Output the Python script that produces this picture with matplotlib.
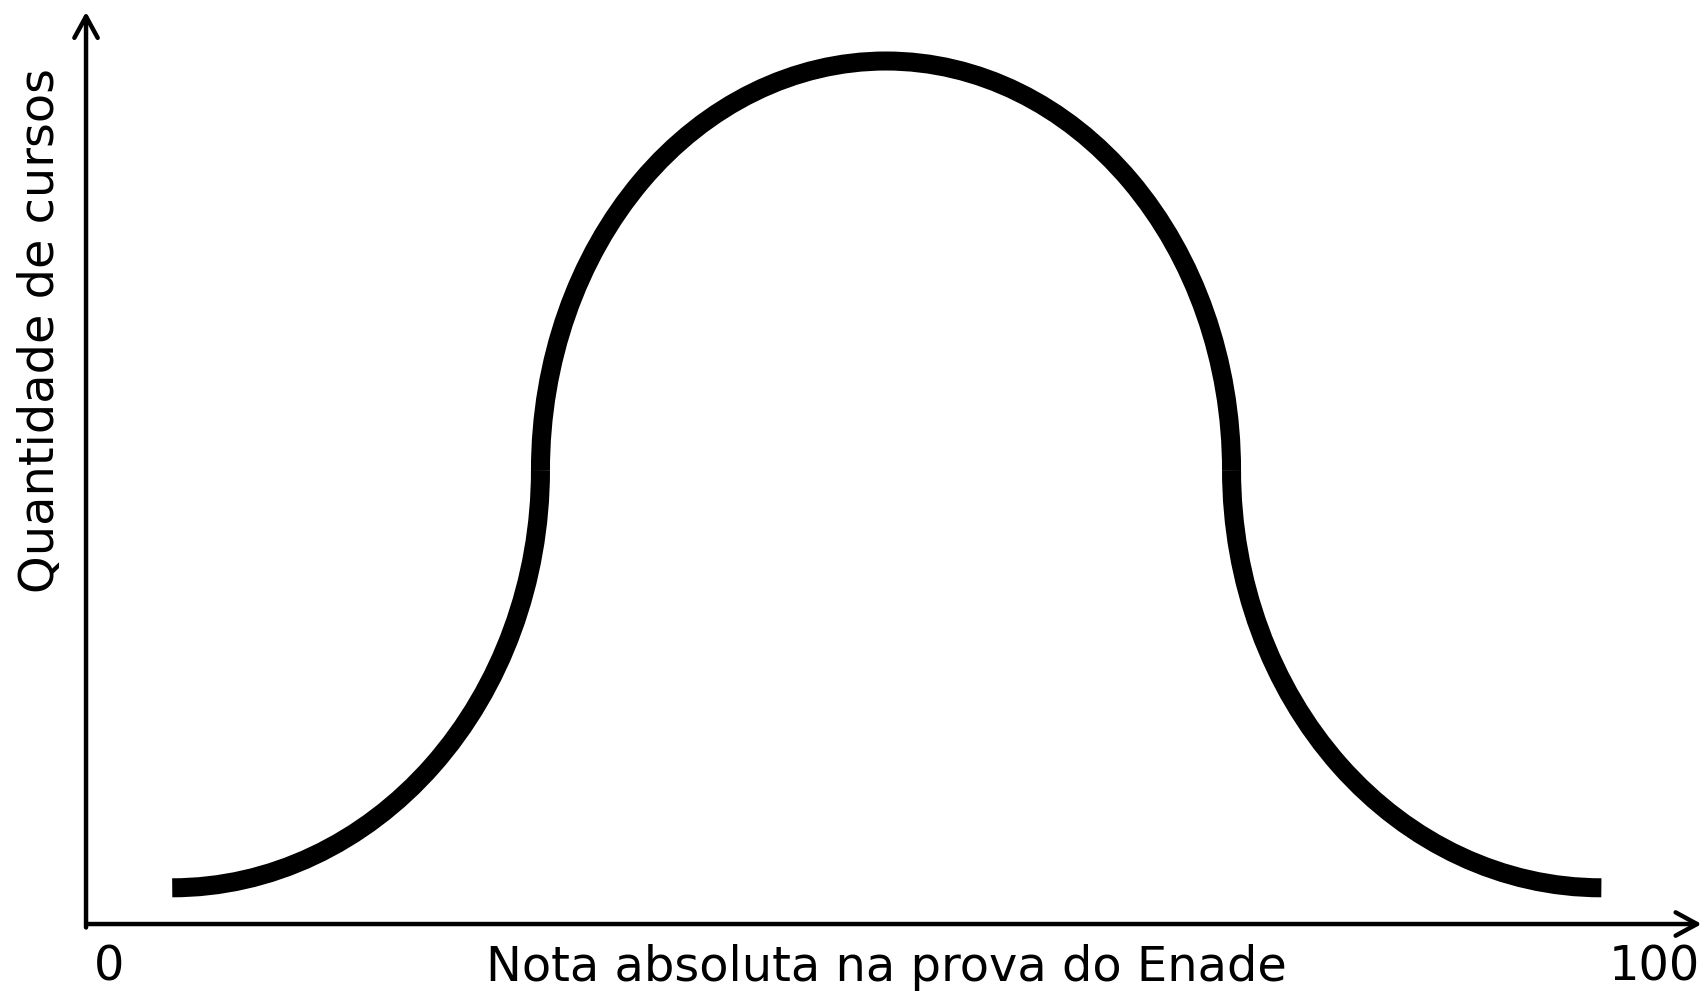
import matplotlib.pyplot as plt
from matplotlib.patches import Arc

# pontos de juncao da curva (nota, quantidade): extremos, juncoes e pico
nota_pontos = [5.5, 29.0, 51.05, 73.1, 96.7]
quantidade_pontos = [4.2, 52.6, 100.0, 52.6, 4.2]

rotulo_x = "Nota absoluta na prova do Enade"
rotulo_y = "Quantidade de cursos"
ticks_x = [0, 100]
ticks_pos = [1.5, 100.1]

fig = plt.figure(figsize=(17.04, 9.91), dpi=100)
ax = fig.add_axes([0, 0, 1, 1])
ax.set_xlim(-5.49, 103.25)
ax.set_ylim(-7.76, 107.07)
ax.axis("off")

lw_curva = 13.7
x = nota_pontos
y = quantidade_pontos

# parte de baixo esquerda (quarto de elipse)
ax.add_patch(Arc((x[0], y[1]), 2 * (x[1] - x[0]), 2 * (y[1] - y[0]),
                 theta1=270, theta2=360, lw=lw_curva, color="black", capstyle="butt"))
# parte de cima (meia elipse)
ax.add_patch(Arc((x[2], y[1]), (x[3] - x[1]), 2 * (y[2] - y[1]),
                 theta1=0, theta2=180, lw=lw_curva, color="black", capstyle="butt"))
# parte de baixo direita
ax.add_patch(Arc((x[4], y[3]), 2 * (x[4] - x[3]), 2 * (y[3] - y[4]),
                 theta1=180, theta2=270, lw=lw_curva, color="black", capstyle="butt"))

# eixos com setas
seta = dict(arrowstyle="->,head_length=0.55,head_width=0.3", lw=3.2, color="black",
            shrinkA=0, shrinkB=0, mutation_scale=28)
ax.annotate("", xy=(103.1, 0), xytext=(0, 0), arrowprops=seta)
ax.annotate("", xy=(0, 105.7), xytext=(0, -0.4), arrowprops=seta)

fs = 34.5
for t, p in zip(ticks_x, ticks_pos):
    ax.text(p, -6.6, str(t), fontsize=fs, ha="center", va="baseline")
ax.text(51.1, -6.6, rotulo_x, fontsize=fs, ha="center", va="baseline")
ax.text(-2.04, 68.8, rotulo_y, fontsize=fs, ha="center", va="baseline",
        rotation=90, rotation_mode="anchor")

fig.savefig("out.png", dpi=100)
